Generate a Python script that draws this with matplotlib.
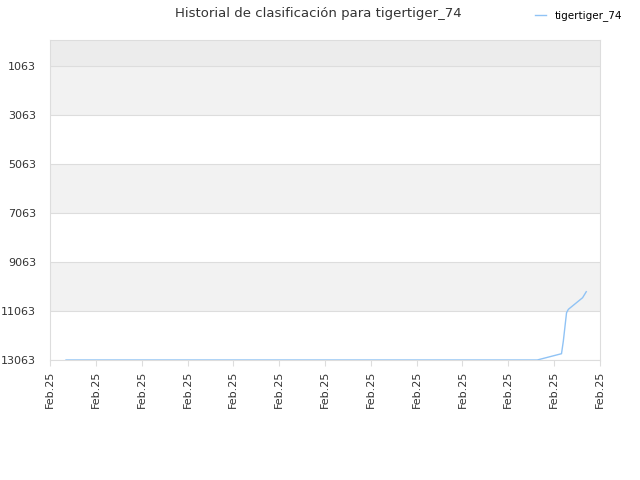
import matplotlib
matplotlib.use("Agg")
import matplotlib.pyplot as plt

# Data
tick_labels = ["Feb.25"] * 13
x_vals = [0.35, 2.0, 4.0, 6.0, 8.0, 10.0, 10.63, 11.16, 11.2, 11.27, 11.31, 11.62, 11.7]
ranks = [13063, 13063, 13063, 13063, 13063, 13063, 13063, 12806, 12290, 11133, 10994, 10521, 10276]
y_ticks = [1063, 3063, 5063, 7063, 9063, 11063, 13063]
series_name = "tigertiger_74"

fig = plt.figure(figsize=(6.4, 4.8), dpi=100)
ax = fig.add_axes([50/640, 1-360/480, 550/640, 320/480])

ymin, ymax = 0, 13063
ax.set_ylim(ymax, ymin)
ax.set_xlim(0, 12)

# Bands
ax.axhspan(ymin, y_ticks[0], color="#ececec", zorder=0, lw=0)
for i in range(len(y_ticks) - 1):
    if i % 2 == 0:
        ax.axhspan(y_ticks[i], y_ticks[i+1], color="#f2f2f2", zorder=0, lw=0)

ax.plot(x_vals, ranks, color="#90c3f5", lw=1.0, label=series_name, zorder=3)

ax.set_yticks(y_ticks)
ax.set_yticklabels([str(v) for v in y_ticks])
ax.set_xticks(range(13))
ax.set_xticklabels(tick_labels, rotation=90)
ax.tick_params(axis="both", labelsize=8, colors="#333333", length=4, color="#dddddd")
ax.tick_params(axis="y", length=0, pad=10)
ax.grid(axis="y", color="#dddddd", lw=0.8)
for s in ax.spines.values():
    s.set_color("#dddddd")

fig.text(318/640, 1-13/480, "Historial de clasificación para tigertiger_74",
         ha="center", va="center", fontsize=9.5, color="#333333")
leg = fig.legend(loc="upper right", bbox_to_anchor=(1.0 - 9/640, 1.0 - 2/480), frameon=False,
                 fontsize=7.5, handlelength=1.0, handletextpad=0.9, borderaxespad=0.4)

fig.savefig("out.png", dpi=100)
